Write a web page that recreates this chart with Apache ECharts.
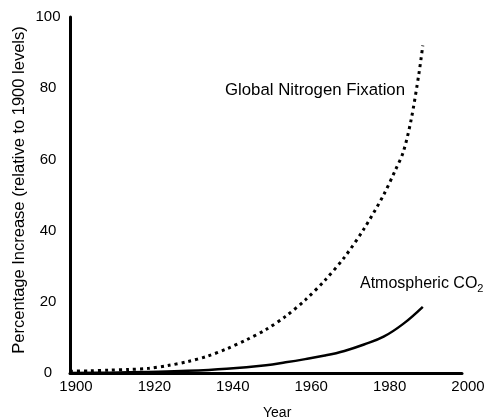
<!DOCTYPE html>
<html>
<head>
<meta charset="utf-8">
<script src="https://cdn.jsdelivr.net/npm/echarts@6/dist/echarts.min.js"></script>
<style>
  html, body { margin: 0; padding: 0; background: #fff; }
  #chart { width: 491px; height: 419px; }
</style>
</head>
<body>
<div id="chart"></div>
<script>
// values (percent increase relative to 1900)
var nitrogenYears = [1900, 1905, 1910, 1915, 1920, 1925, 1930, 1935, 1940, 1945, 1950, 1955, 1960, 1965, 1970, 1975, 1980, 1983, 1985, 1987, 1989, 1990];
var nitrogenValues = [0.5, 0.6, 0.8, 1.0, 1.3, 2.1, 3.2, 4.7, 6.8, 9.3, 12.2, 15.9, 20.5, 26, 32.5, 40.5, 50, 57, 62, 71, 84, 92];

var co2Years = [1900, 1910, 1920, 1930, 1940, 1950, 1955, 1960, 1965, 1970, 1975, 1980, 1985, 1990];
var co2Values = [0, 0.1, 0.3, 0.6, 1.2, 2.2, 3.0, 3.9, 4.9, 6.2, 8.0, 10.2, 13.8, 18.6];

var xTicks = [1900, 1920, 1940, 1960, 1980, 2000];
var yTicks = [0, 20, 40, 60, 80, 100];

var font = 'Liberation Sans, Arial, Helvetica, sans-serif';

function pairs(xs, ys) {
	var out = [];
	for (var i = 0; i < xs.length; i++) {
		out.push([xs[i], ys[i]]);
	}
	return out;
}

var chart = echarts.init(document.getElementById('chart'));

var option = {
	animation: false,
	backgroundColor: '#fff',
	grid: { left: 70, right: 29, top: 17, bottom: 46 },
	xAxis: {
		type: 'value',
		min: xTicks[0],
		max: xTicks[xTicks.length - 1],
		interval: 20,
		axisLine: { show: true, lineStyle: { color: '#000', width: 3 } },
		axisTick: { show: false },
		splitLine: { show: false },
		axisLabel: {
			color: '#000', fontSize: 15, fontFamily: font,
			margin: 6, padding: [0, 0, 0, 12],
			formatter: function (v) { return String(v); }
		}
	},
	yAxis: {
		type: 'value',
		min: yTicks[0],
		max: yTicks[yTicks.length - 1],
		interval: 20,
		axisLine: { show: true, lineStyle: { color: '#000', width: 3 } },
		axisTick: { show: false },
		splitLine: { show: false },
		axisLabel: {
			color: '#000', fontSize: 15, fontFamily: font,
			margin: 22, align: 'center'
		}
	},
	series: [ {
		name: 'Global Nitrogen Fixation',
		type: 'line',
		smooth: 0.3,
		symbol: 'none',
		lineStyle: { color: '#000', width: 3, type: [3, 4] },
		data: pairs(nitrogenYears, nitrogenValues)
	}, {
		name: 'Atmospheric CO2',
		type: 'line',
		smooth: 0.4,
		symbol: 'none',
		lineStyle: { color: '#000', width: 2.5 },
		data: pairs(co2Years, co2Values)
	} ],
	graphic: [ {
		type: 'text', left: 225, top: 82,
		style: { text: 'Global Nitrogen Fixation', fill: '#000', font: '16.8px ' + font }
	}, {
		type: 'text', left: 360, top: 276,
		style: {
			text: 'Atmospheric CO{sub|2}', fill: '#000', font: '16px ' + font,
			rich: { sub: { fontSize: 11, fontFamily: font, padding: [9, 0, 0, 0] } }
		}
	}, {
		type: 'text', left: 263, top: 406,
		style: { text: 'Year', fill: '#000', font: '14px ' + font }
	}, {
		type: 'text', x: 19, y: 190, rotation: Math.PI / 2,
		style: {
			text: 'Percentage Increase (relative to 1900 levels)', fill: '#000',
			font: '16.5px ' + font, align: 'center', verticalAlign: 'middle'
		}
	} ]
};

chart.setOption(option);
</script>
</body>
</html>
